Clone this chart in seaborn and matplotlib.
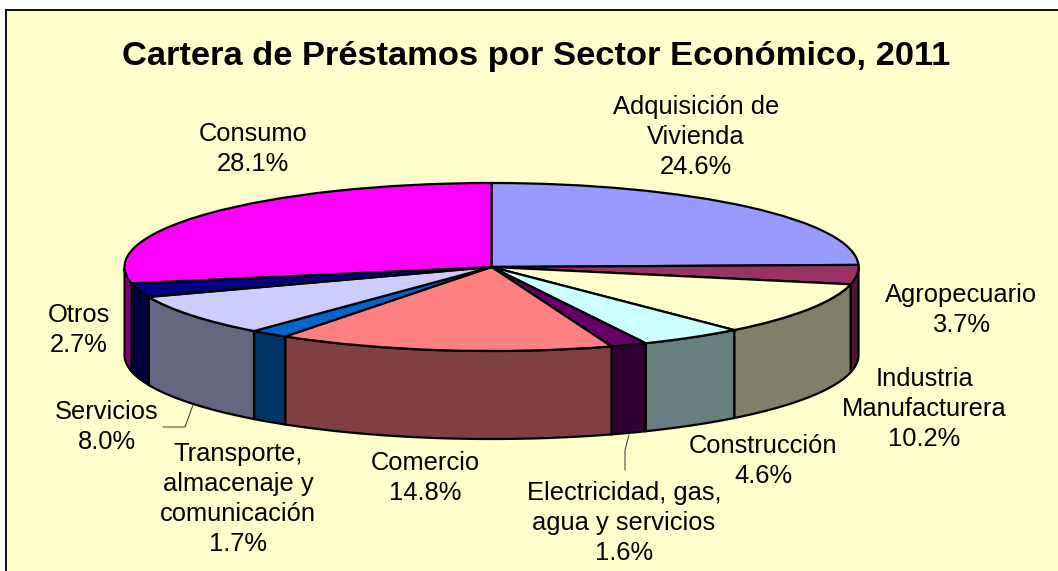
import numpy as np
import matplotlib
matplotlib.use('Agg')
import matplotlib.pyplot as plt
import seaborn as sns

# datos
sectores = ['Adquisición de\nVivienda', 'Agropecuario', 'Industria\nManufacturera', 'Construcción',
            'Electricidad, gas,\nagua y servicios', 'Comercio', 'Transporte,\nalmacenaje y\ncomunicación',
            'Servicios', 'Otros', 'Consumo']
valores = [24.6, 3.7, 10.2, 4.6, 1.6, 14.8, 1.7, 8.0, 2.7, 28.1]
colores = ['#9999FF', '#993366', '#FFFFCC', '#CCFFFF', '#660066', '#FF8080', '#0066CC', '#CCCCFF', '#000080', '#FF00FF']
laterales = ['#4D4D80', '#4D1A33', '#808066', '#668080', '#330033', '#804040', '#003366', '#666680', '#000040', '#800080']
titulo = 'Cartera de Préstamos por Sector Económico, 2011'
# centro de cada etiqueta en pixeles
pos_etiquetas = [(696, 137), (961, 310), (924, 409), (763, 461), (624, 523), (425, 478), (238, 499), (107, 427), (79, 330), (253, 149)]

W, H = 1058, 571
cx, cy, a, b, prof = 491.5, 267, 367, 84, 88

sns.set_theme(style='white')
plt.rcParams['font.family'] = ['Liberation Sans', 'DejaVu Sans']

fig = plt.figure(figsize=(W / 100, H / 100), dpi=100, facecolor='white')

# fondo con marco, la imagen esta recortada abajo y a la derecha
fondo = fig.add_axes([6 / W, 0, 1 - 6 / W, 1 - 10 / H], facecolor='#FFFFCC')
fondo.set_xticks([])
fondo.set_yticks([])
sns.despine(ax=fondo, right=True, bottom=True, top=False, left=False)
for lado in ['top', 'left']:
    fondo.spines[lado].set_color('black')
    fondo.spines[lado].set_linewidth(1.3)

ax = fig.add_axes([(cx - a) / W, 1 - (cy + b) / H, 2 * a / W, 2 * b / H])
ax.patch.set_alpha(0)
ax.pie(valores, colors=sns.color_palette(colores), startangle=90, counterclock=False, radius=1,
       wedgeprops=dict(edgecolor='black', linewidth=1.6, zorder=3))
ax.set_aspect('auto')
ax.set_xlim(-1, 1)
ax.set_ylim(-1, 1)

# paredes laterales del pastel, solo la mitad de adelante
d = prof / b
acum = np.cumsum([0] + valores)
for i, c in enumerate(laterales):
    t1 = 90 - acum[i] * 3.6
    t2 = 90 - acum[i + 1] * 3.6
    t = np.radians(np.linspace(t1, t2, 100)) % (2 * np.pi)
    t = t[np.sin(t) <= 0]
    if len(t) < 2:
        continue
    x = np.cos(t)
    y = np.sin(t)
    ax.fill(np.r_[x, x[::-1]], np.r_[y, y[::-1] - d], facecolor=c, edgecolor='black',
            linewidth=1.6, clip_on=False, zorder=2)

# capa de textos en pixeles
capa = fig.add_axes([0, 0, 1, 1])
capa.patch.set_alpha(0)
capa.axis('off')
capa.set_xlim(0, W)
capa.set_ylim(H, 0)
capa.text(536, 56, titulo, fontsize=24.8, fontweight='bold', color='black', ha='center', va='center')
for nombre, v, (px, py) in zip(sectores, valores, pos_etiquetas):
    capa.text(px, py, f'{nombre}\n{v:.1f}%', fontsize=18.4, color='black', ha='center', va='center', linespacing=1.3)

# lineas guia
capa.plot([163, 185, 193], [427, 427, 405], color='#333333', lw=0.7)
capa.plot([625, 625, 629], [470, 450, 435], color='#333333', lw=0.7)

plt.savefig('out.png', dpi=100)
